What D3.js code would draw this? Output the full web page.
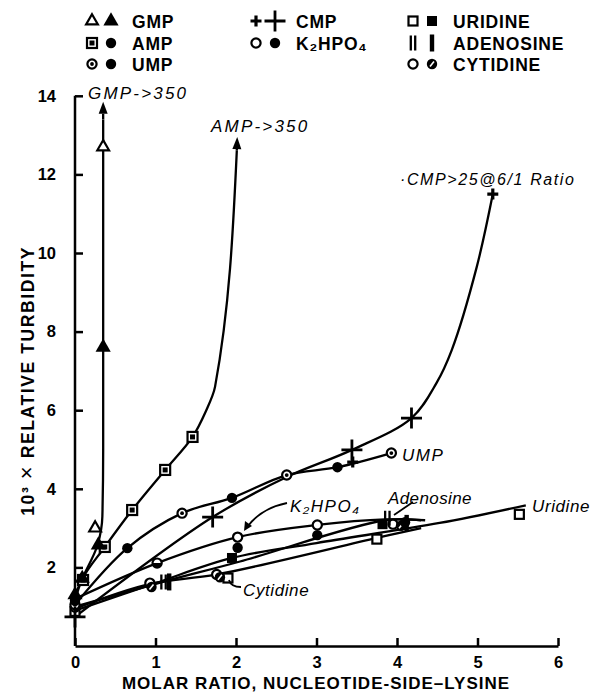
<!DOCTYPE html>
<html>
<head>
<meta charset="utf-8">
<script src="https://cdn.jsdelivr.net/npm/d3@7"></script>
<style>
  html, body { margin: 0; padding: 0; background: #fff; }
  svg { display: block; }
  text { font-family: "Liberation Sans", Arial, sans-serif; fill: #000; }
</style>
</head>
<body>
<svg id="chart" width="599" height="692"></svg>
<script>
// axis ticks
const xTicks = [0, 1, 2, 3, 4, 5, 6];
const yTicks = [2, 4, 6, 8, 10, 12, 14];

// curves (molar ratio, 10^3 x turbidity)
const gmpLine = [[0, 1.3], [0.09, 1.72], [0.28, 2.57], [0.34, 3.3], [0.35, 5], [0.35, 13.4]];
const ampLine = [[0, 1.15], [0.09, 1.7], [0.37, 2.52], [0.71, 3.46], [1.12, 4.48], [1.46, 5.32], [1.62, 5.95], [1.74, 6.6], [2.01, 12.6]];
const cmpLine = [[0, 0.74], [1.71, 3.28], [2.63, 4.3], [3.44, 4.99], [4.18, 5.8], [4.49, 6.69], [4.68, 7.53], [4.99, 9.64], [5.19, 11.5]];
const umpLine = [[0, 1.05], [0.65, 2.49], [1.33, 3.38], [1.95, 3.77], [2.63, 4.35], [3.26, 4.55], [3.93, 4.91]];
const k2Line = [[0, 1.2], [1.02, 2.11], [2.02, 2.77], [3.01, 3.08], [3.85, 3.22], [4.35, 3.2]];
const uridineLine = [[0, 0.9], [1.0, 1.6], [1.95, 2.24], [3.0, 2.62], [4.53, 3.13], [5.6, 3.58]];
const adenosineLine = [[0, 1.0], [1.07, 1.62], [2.05, 2.15], [3.85, 3.2], [4.3, 3.2]];
const cytidineLine = [[0, 0.95], [0.93, 1.58], [1.76, 1.82], [3.75, 2.75], [4.3, 3.0]];

// arrow tips (off-scale values)
const gmpArrow = [0.35, 13.85];
const ampArrow = [2.015, 12.95];

// plotted points
const gmpOpen = [[0.25, 3.0], [0.35, 12.7]];
const gmpFilled = [[0, 1.3], [0.09, 1.72], [0.29, 2.57], [0.35, 7.6]];
const ampBoxed = [[0.1, 1.68], [0.37, 2.52], [0.71, 3.46], [1.12, 4.48], [1.46, 5.32]];
const ampFilled = [[0, 1.15]];
const cmpBig = [[0, 0.74], [1.71, 3.28], [3.44, 4.99], [4.18, 5.8]];
const cmpSmall = [[3.45, 4.68], [5.19, 11.5]];
const umpDotted = [[0, 1.05], [1.33, 3.38], [2.63, 4.35], [3.93, 4.91]];
const umpFilled = [[0.65, 2.49], [1.95, 3.77], [3.26, 4.55]];
const k2Open = [[2.02, 2.77], [3.01, 3.08]];
const k2Half = [[1.02, 2.11]];
const k2Filled = [[0, 1.22], [2.02, 2.5], [3.01, 2.82], [4.1, 3.15]];
const uridineOpen = [[0, 0.88], [1.9, 1.73], [3.75, 2.72], [5.52, 3.35]];
const uridineFilled = [[1.95, 2.24], [3.82, 3.1]];
const adenosineDouble = [[1.1, 1.63], [3.88, 3.25]];
const adenosineSingle = [[1.17, 1.63], [4.12, 3.12]];
const cytidineOpen = [[0.93, 1.6], [1.76, 1.82], [3.95, 3.1]];
const cytidineSlash = [[0, 0.98], [0.95, 1.5], [1.8, 1.75], [4.05, 3.06]];

// legend
const legendLabels = ["GMP", "AMP", "UMP", "CMP", "K₂HPO₄", "URIDINE", "ADENOSINE", "CYTIDINE"];
const legendSymbols = [["triOpen", "triFill"], ["sqDot", "circFill"], ["circDot", "circFill"],
  ["plusSmall", "plusBig"], ["circOpen", "circFill"], ["sqOpen", "sqFill"],
  ["barDouble", "barSingle"], ["circOpen", "circSlash"]];

const svg = d3.select("#chart");
const x = d3.scaleLinear().domain([0, 6]).range([75, 558]);
const y = d3.scaleLinear().domain([0, 14]).range([646, 95.8]);

// axes
const xAxis = svg.append("g")
  .attr("transform", `translate(0,${y(0)})`)
  .call(d3.axisBottom(x).tickValues(xTicks).tickFormat(d3.format("d"))
    .tickSize(-8).tickSizeOuter(0).tickPadding(10));
const yAxis = svg.append("g")
  .attr("transform", `translate(${x(0)},0)`)
  .call(d3.axisLeft(y).tickValues(yTicks).tickFormat(d3.format("d"))
    .tickSize(-8).tickSizeOuter(0).tickPadding(19));
[xAxis, yAxis].forEach(a => {
  a.selectAll("path, line").attr("stroke", "#000").attr("stroke-width", 2.5);
  a.selectAll("text").attr("font-size", 16.5).attr("font-weight", "bold")
    .attr("font-family", "Liberation Sans, Arial, sans-serif").attr("fill", "#000");
});
yAxis.select(".domain").attr("d", `M0,${y(0)}V${y(14)}`);

const yTitle = svg.append("text")
  .attr("transform", `translate(34,${(y(0) + y(14)) / 2 + 10}) rotate(-90)`)
  .attr("text-anchor", "middle").attr("font-size", 17.5).attr("font-weight", "bold")
  .attr("letter-spacing", 1.6);
yTitle.append("tspan").text("10³ ");
yTitle.append("tspan").attr("font-size", 22).attr("font-weight", "normal").text("×");
yTitle.append("tspan").text(" RELATIVE TURBIDITY");

svg.append("text")
  .attr("x", 316).attr("y", 689)
  .attr("text-anchor", "middle").attr("font-size", 17).attr("font-weight", "bold")
  .attr("letter-spacing", 1)
  .text("MOLAR RATIO, NUCLEOTIDE-SIDE–LYSINE");

// curves
const plot = svg.append("g");
const lineX = d3.line().x(d => x(d[0])).y(d => y(d[1])).curve(d3.curveCatmullRom.alpha(0.5));
const lineY = d3.line().x(d => x(d[0])).y(d => y(d[1])).curve(d3.curveMonotoneY);

[[gmpLine, lineY], [ampLine, lineY], [cmpLine, lineX], [umpLine, lineX], [k2Line, lineX],
 [uridineLine, lineX], [adenosineLine, lineX], [cytidineLine, lineX]].forEach(([pts, gen]) => {
  plot.append("path").attr("d", gen(pts))
    .attr("fill", "none").attr("stroke", "#000").attr("stroke-width", 2.3);
});

function arrowHead(from, tip) {
  const x0 = x(from[0]), y0 = y(from[1]), x1 = x(tip[0]), y1 = y(tip[1]);
  const a = Math.atan2(y1 - y0, x1 - x0);
  const len = 12, w = 4.5;
  const bx = x1 - len * Math.cos(a), by = y1 - len * Math.sin(a);
  const px = -Math.sin(a) * w, py = Math.cos(a) * w;
  plot.append("line").attr("x1", x0).attr("y1", y0).attr("x2", bx).attr("y2", by)
    .attr("stroke", "#000").attr("stroke-width", 2.3);
  plot.append("path")
    .attr("d", `M${x1},${y1}L${bx + px},${by + py}L${bx - px},${by - py}Z`)
    .attr("fill", "#000");
}
arrowHead(gmpLine[gmpLine.length - 1], gmpArrow);
arrowHead(ampLine[ampLine.length - 1], ampArrow);

// markers
function marker(g, type, cx, cy) {
  const s = g.append("g").attr("transform", `translate(${cx},${cy})`);
  const stroke = el => el.attr("stroke", "#000").attr("stroke-width", 2.2);
  switch (type) {
    case "triOpen":
      stroke(s.append("path").attr("d", d3.symbol(d3.symbolTriangle, 60)()).attr("fill", "#fff"));
      break;
    case "triFill":
      s.append("path").attr("d", d3.symbol(d3.symbolTriangle, 100)()).attr("fill", "#000");
      break;
    case "sqOpen":
      stroke(s.append("rect").attr("x", -4.5).attr("y", -4.5).attr("width", 9).attr("height", 9).attr("fill", "#fff"));
      break;
    case "sqFill":
      s.append("rect").attr("x", -5).attr("y", -5).attr("width", 10).attr("height", 10).attr("fill", "#000");
      break;
    case "sqDot":
      stroke(s.append("rect").attr("x", -5).attr("y", -5).attr("width", 10).attr("height", 10).attr("fill", "#fff"));
      s.append("rect").attr("x", -2.5).attr("y", -2.5).attr("width", 5).attr("height", 5).attr("fill", "#000");
      break;
    case "circFill":
      s.append("circle").attr("r", 5.2).attr("fill", "#000");
      break;
    case "circOpen":
      stroke(s.append("circle").attr("r", 4.6).attr("fill", "#fff"));
      break;
    case "circDot":
      stroke(s.append("circle").attr("r", 4.6).attr("fill", "#fff"));
      s.append("circle").attr("r", 1.9).attr("fill", "#000");
      break;
    case "circSlash":
      s.append("circle").attr("r", 5.2).attr("fill", "#000");
      s.append("line").attr("x1", -2).attr("y1", 2.5).attr("x2", 2).attr("y2", -2.5)
        .attr("stroke", "#fff").attr("stroke-width", 1.6);
      break;
    case "circHalf":
      stroke(s.append("circle").attr("r", 4.6).attr("fill", "#fff"));
      s.append("path").attr("d", d3.arc()({innerRadius: 0, outerRadius: 5, startAngle: Math.PI / 2, endAngle: Math.PI * 1.5}))
        .attr("fill", "#000");
      break;
    case "plusSmall":
      s.append("path").attr("d", "M-5.5,0H5.5M0,-5.5V5.5").attr("stroke", "#000").attr("stroke-width", 3.2);
      break;
    case "plusBig":
      s.append("path").attr("d", "M-10.5,0H10.5M0,-10.5V10.5").attr("stroke", "#000").attr("stroke-width", 2.8);
      break;
    case "barDouble":
      s.append("path").attr("d", "M-2.2,-7.5V7.5M2.2,-7.5V7.5").attr("stroke", "#000").attr("stroke-width", 2.3);
      break;
    case "barSingle":
      s.append("rect").attr("x", -2.2).attr("y", -8.5).attr("width", 4.4).attr("height", 17).attr("fill", "#000");
      break;
  }
}

const pointSets = [
  [uridineOpen, "sqOpen"], [uridineFilled, "sqFill"],
  [cytidineOpen, "circOpen"], [cytidineSlash, "circSlash"],
  [adenosineDouble, "barDouble"], [adenosineSingle, "barSingle"],
  [k2Open, "circOpen"], [k2Half, "circHalf"], [k2Filled, "circFill"],
  [umpDotted, "circDot"], [umpFilled, "circFill"],
  [ampBoxed, "sqDot"], [ampFilled, "circFill"],
  [gmpOpen, "triOpen"], [gmpFilled, "triFill"],
  [cmpSmall, "plusSmall"], [cmpBig, "plusBig"]
];
pointSets.forEach(([pts, type]) => pts.forEach(p => marker(plot, type, x(p[0]), y(p[1]))));

// annotations
const ann = svg.append("g").attr("font-style", "italic").attr("font-size", 17).attr("letter-spacing", 1.5);
ann.append("text").attr("x", 88).attr("y", 99).attr("letter-spacing", 2.2).text("GMP->350");
ann.append("text").attr("x", 211).attr("y", 132).attr("letter-spacing", 2.2).text("AMP->350");
ann.append("text").attr("x", 400).attr("y", 185).attr("font-size", 16).attr("letter-spacing", 1.6).text("·CMP>25@6/1 Ratio");
ann.append("text").attr("x", 402).attr("y", 461).text("UMP");
ann.append("text").attr("x", 290).attr("y", 512).text("K₂HPO₄");
ann.append("text").attr("x", 388).attr("y", 504).attr("letter-spacing", 0.4).text("Adenosine");
ann.append("text").attr("x", 532).attr("y", 512).attr("letter-spacing", 0.6).text("Uridine");
ann.append("text").attr("x", 243).attr("y", 596).attr("letter-spacing", 0.6).text("Cytidine");

// pointers
const ptr = svg.append("g").attr("fill", "none").attr("stroke", "#000").attr("stroke-width", 1.8);
ptr.append("path").attr("d", "M287,503 Q262,508 248,526");
svg.append("path").attr("d", "M244,531 L245,521 L252,526 Z").attr("fill", "#000");
ptr.append("path").attr("d", "M413,502 L394,515");
ptr.append("path").attr("d", "M241,587 Q231,587 229,580");

// legend
const legend = svg.append("g").attr("font-size", 17.5).attr("font-weight", "bold");
const colX = [92, 256, 413];
const rowY = [21, 43, 64];
legendLabels.forEach((label, i) => {
  const col = i < 3 ? 0 : i < 5 ? 1 : 2;
  const row = i < 3 ? i : i < 5 ? i - 3 : i - 5;
  const cx = colX[col], cy = rowY[row];
  marker(legend, legendSymbols[i][0], cx, cy);
  marker(legend, legendSymbols[i][1], cx + 19, cy);
  legend.append("text").attr("x", cx + 40).attr("y", cy + 6.5).attr("letter-spacing", 0.8).text(label);
});
</script>
</body>
</html>
